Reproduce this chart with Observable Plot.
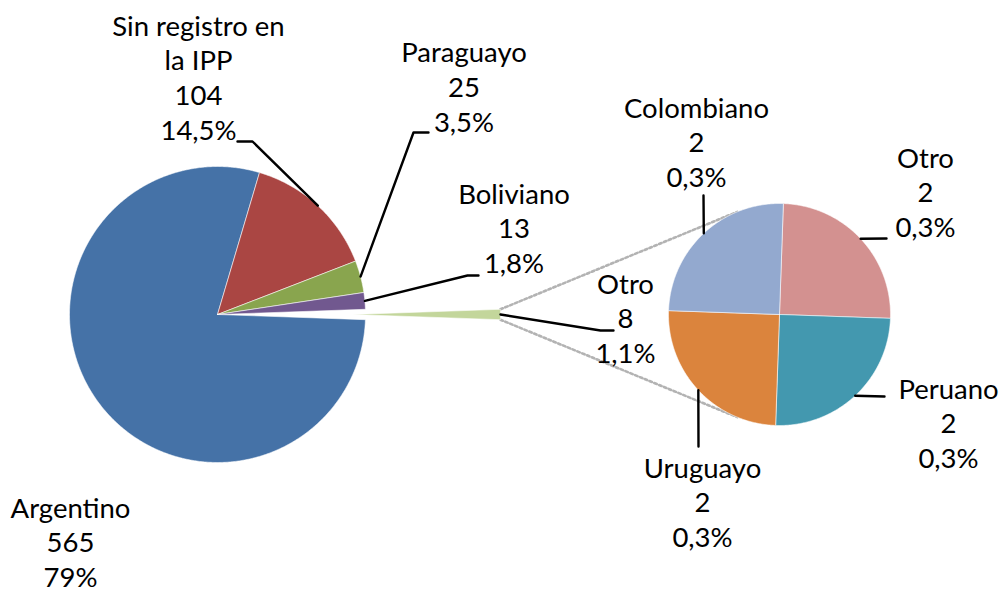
<!DOCTYPE html>
<html><head><meta charset="utf-8">
<script src="https://cdn.jsdelivr.net/npm/d3@7"></script>
<script src="https://cdn.jsdelivr.net/npm/@observablehq/plot@0.6"></script>
<style>html,body{margin:0;padding:0;background:#fff} svg{display:block}</style>
</head><body><div id="chart"></div>
<script>
// ---- data ----
const mainCategories = ["Argentino", "Sin registro en la IPP", "Paraguayo", "Boliviano", "Otro"];
const mainValues = [565, 104, 25, 13, 8];
const mainPctLabels = ["79%", "14,5%", "3,5%", "1,8%", "1,1%"];
const subCategories = ["Otro", "Peruano", "Uruguayo", "Colombiano"];
const subValues = [2, 2, 2, 2];
const subPctLabels = ["0,3%", "0,3%", "0,3%", "0,3%"];

// ---- styles ----
const mainColors = ["#4572A7", "#AA4643", "#89A54E", "#71588F", "#C3D69B"];
const subColors = ["#D39190", "#4398AF", "#DB843D", "#93A9CF"];
const FONT = "Lato, 'Open Sans', sans-serif";
const FS = 27.5, LH = 34.7;

// ---- layout ----
const W = 1002, H = 589;
const mainPie = {cx: 217, cy: 314, r: 148, explode: 135};
const subPie = {cx: 779, cy: 314, r: 111, rotate: 2 * Math.PI / 180};
const nameWrap = {"Sin registro en la IPP": ["Sin registro en", "la IPP"]};
// label centre x, first baseline, leader elbow/end (null = no leader)
const mainLabelLayout = [
  {x: 70, base: 517, pts: null},
  {x: 198, base: 35, pts: [[252, 141], [237, 141]]},
  {x: 463.5, base: 61.7, pts: [[413, 132], [428, 132]]},
  {x: 513.5, base: 203, pts: [[467, 275], [478, 275]]},
  {x: 625, base: 293, pts: [[600, 330], [613, 330]]}
];
const subLabelLayout = [
  {x: 925, base: 167, pts: [[886, 238]]},
  {x: 948, base: 398, pts: [[884, 396]]},
  {x: 702, base: 477, pts: [[698, 446]]},
  {x: 696, base: 117, pts: [[703, 195]]}
];

// ---- geometry ----
const total = d3.sum(mainValues);
const otroIdx = mainCategories.length - 1;
const otroAngle = 2 * Math.PI * mainValues[otroIdx] / total;
const mainStart = Math.PI / 2 + otroAngle / 2;
const mainArcs = d3.pie().sort(null).startAngle(mainStart).endAngle(mainStart + 2 * Math.PI)(mainValues);
const subArcs = d3.pie().sort(null).startAngle(subPie.rotate).endAngle(subPie.rotate + 2 * Math.PI)(subValues);

const pt = (cx, cy, r, a) => [cx + r * Math.sin(a), cy - r * Math.cos(a)];
function wedge(key, cx, cy, r, a0, a1, color) {
  const n = Math.max(2, Math.ceil((a1 - a0) / (Math.PI / 360)));
  const rows = [{key, x: cx, y: cy, color}];
  for (let i = 0; i <= n; i++) {
    const [x, y] = pt(cx, cy, r, a0 + (a1 - a0) * i / n);
    rows.push({key, x, y, color});
  }
  rows.push({key, x: cx, y: cy, color});
  return rows;
}

const slices = [];
const mainCenters = mainArcs.map((a, i) => {
  const mid = (a.startAngle + a.endAngle) / 2;
  const off = i === otroIdx ? mainPie.explode : 0;
  const [cx, cy] = pt(mainPie.cx, mainPie.cy, off, mid);
  return {cx, cy, mid};
});
mainArcs.forEach((a, i) => {
  const c = mainCenters[i];
  slices.push(...wedge("m" + i, c.cx, c.cy, mainPie.r, a.startAngle, a.endAngle, mainColors[i]));
});
subArcs.forEach((a, i) => {
  slices.push(...wedge("s" + i, subPie.cx, subPie.cy, subPie.r, a.startAngle, a.endAngle, subColors[i]));
});

// connector tangent lines from exploded "Otro" slice to the second pie
const oc = mainCenters[otroIdx];
const oa = mainArcs[otroIdx];
const corners = [pt(oc.cx, oc.cy, mainPie.r, oa.startAngle), pt(oc.cx, oc.cy, mainPie.r, oa.endAngle)];
const connectors = [];
corners.forEach((P, k) => {
  const dx = P[0] - subPie.cx, dy = P[1] - subPie.cy;
  const d = Math.hypot(dx, dy);
  const phi = Math.atan2(dx, -dy);
  const th = Math.acos(subPie.r / d);
  const T = pt(subPie.cx, subPie.cy, subPie.r, k === 0 ? phi + th : phi - th);
  connectors.push({k, x: P[0], y: P[1]}, {k, x: T[0], y: T[1]});
});

// labels and leaders
const textRows = [];
const leaders = [];
function addLabel(id, name, value, pct, lay, anchor) {
  const lines = [...(nameWrap[name] || [name]), String(value), pct];
  lines.forEach((t, j) => textRows.push({x: lay.x, y: lay.base + j * LH - 0.32 * FS, t}));
  if (lay.pts) {
    [anchor, ...lay.pts].forEach(p => leaders.push({id, x: p[0], y: p[1]}));
  }
}
mainCategories.forEach((name, i) => {
  const c = mainCenters[i];
  addLabel("m" + i, name, mainValues[i], mainPctLabels[i], mainLabelLayout[i], pt(c.cx, c.cy, mainPie.r, c.mid));
});
subCategories.forEach((name, i) => {
  const a = subArcs[i];
  addLabel("s" + i, name, subValues[i], subPctLabels[i], subLabelLayout[i],
    pt(subPie.cx, subPie.cy, subPie.r, (a.startAngle + a.endAngle) / 2));
});

const chart = Plot.plot({
  width: W, height: H, margin: 0,
  x: {domain: [0, W], range: [0, W], axis: null},
  y: {domain: [0, H], range: [0, H], axis: null},
  color: {type: "identity"},
  style: {background: "#fff", fontFamily: FONT},
  marks: [
    Plot.line(connectors, {x: "x", y: "y", z: "k", stroke: "#B3B3B3", strokeWidth: 2.6, strokeDasharray: "2.6,2.6", curve: "linear"}),
    Plot.line(slices, {x: "x", y: "y", z: "key", fill: "color", stroke: "#fff", strokeWidth: 0.8, strokeOpacity: 0.7, curve: "linear"}),
    Plot.line(leaders, {x: "x", y: "y", z: "id", stroke: "#000", strokeWidth: 2.4, curve: "linear"}),
    Plot.text(textRows, {x: "x", y: "y", text: "t", fontSize: FS, fill: "#000", textAnchor: "middle", fontFamily: FONT})
  ]
});
document.getElementById("chart").appendChild(chart);
</script>
</body></html>
